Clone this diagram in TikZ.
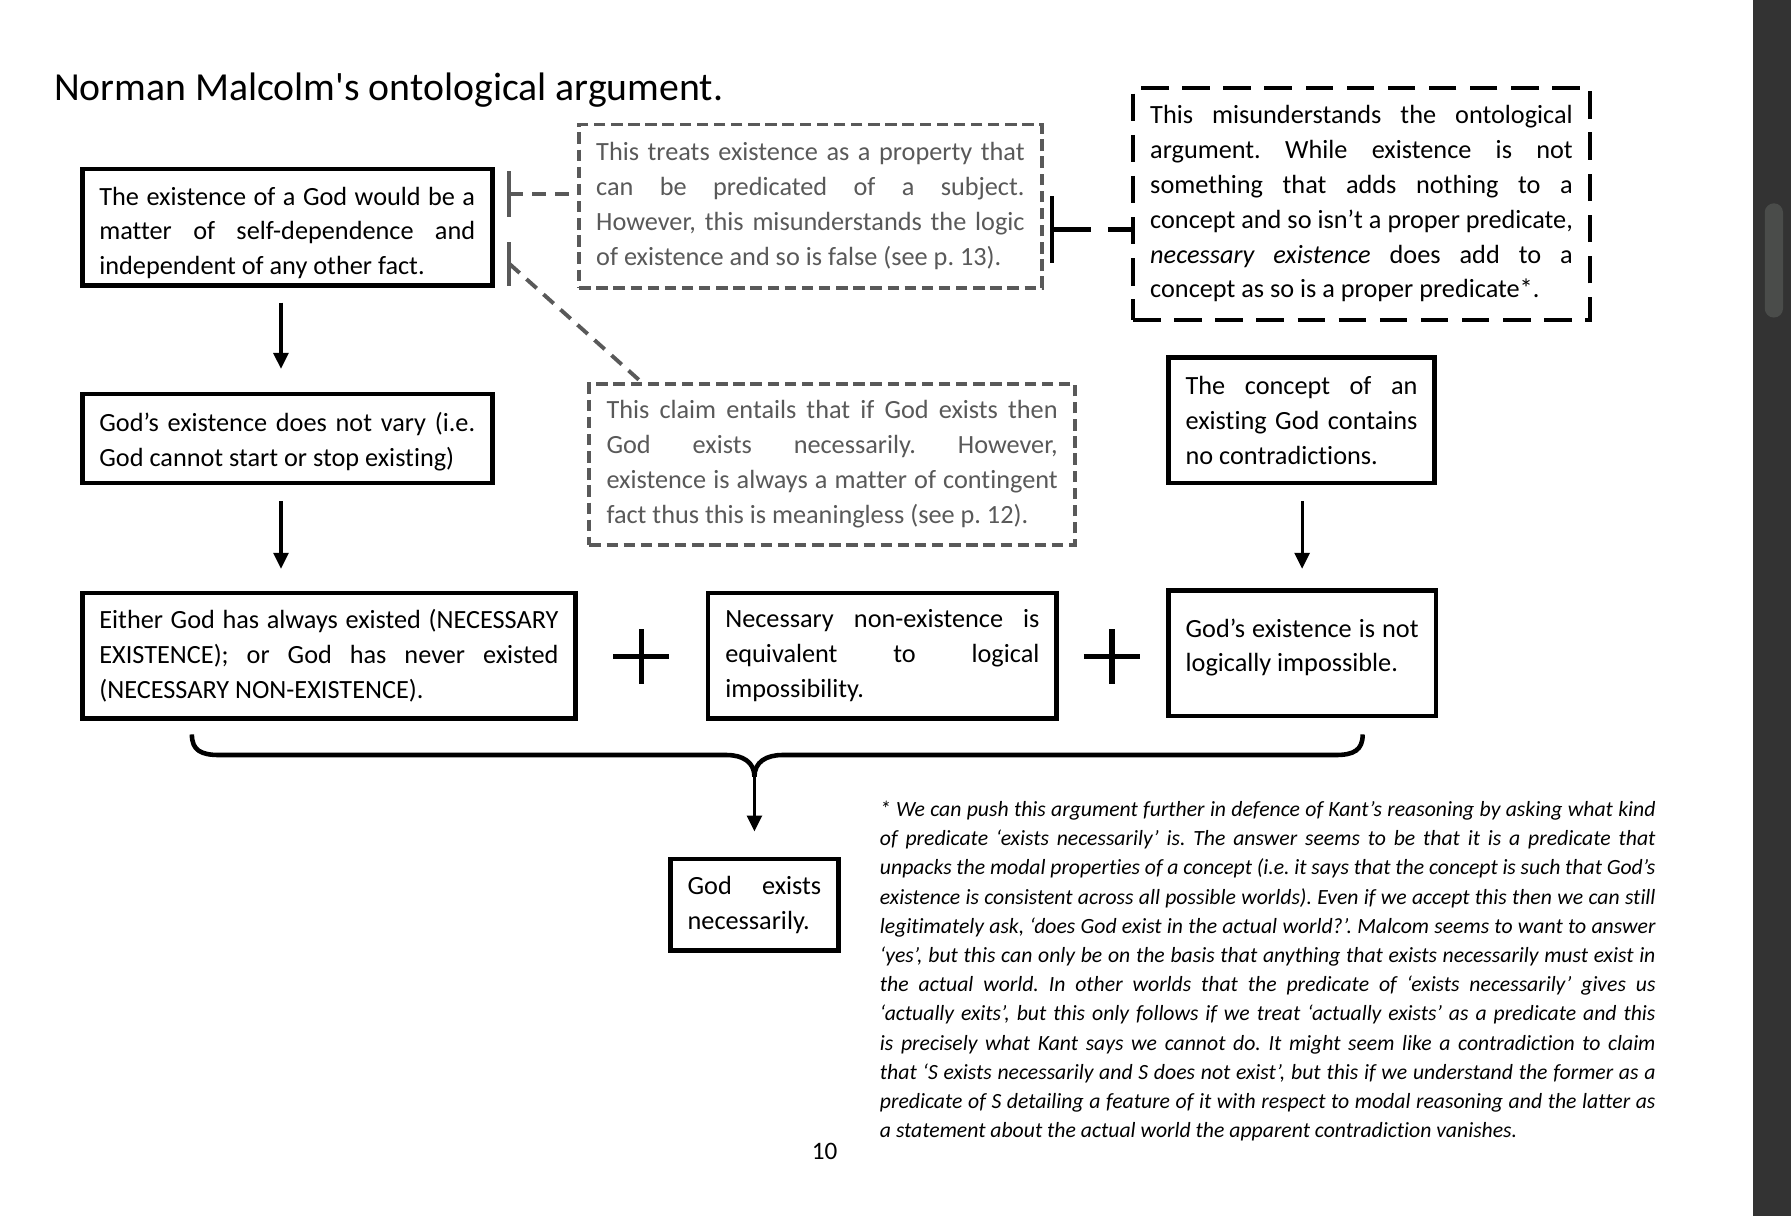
\documentclass[tikz,border=0pt]{standalone}
\usepackage{fontspec}
\setmainfont{Carlito}[Ligatures=CommonOff]
\usetikzlibrary{arrows.meta,calc}
\definecolor{gtxt}{HTML}{595959}
\definecolor{barbg}{HTML}{333333}
\definecolor{thumbc}{HTML}{4A4C4A}
\font\titlerawfont="Carlito" at 17.4pt
\newcommand{\boxfont}{\fontsize{11.5}{15.25}\selectfont\frenchspacing\hyphenpenalty=10000 \exhyphenpenalty=10000 \tolerance=10000 \hbadness=10000 }
\newcommand{\footfont}{\fontsize{9.5}{12.78}\selectfont\itshape\frenchspacing\hyphenpenalty=10000 \exhyphenpenalty=10000 \tolerance=10000 \hbadness=10000 }
\tikzset{
  solidbox/.style={draw, line width=2pt, rectangle, inner xsep=7.5pt, inner ysep=0pt, align=justify, font=\boxfont},
  graybox/.style={draw=gtxt, text=gtxt, line width=1.7pt, dash pattern=on 5pt off 2.5pt, rectangle, inner xsep=7.5pt, inner ysep=0pt, align=justify, font=\boxfont},
  blackdashbox/.style={draw, line width=2pt, dash pattern=on 12pt off 6pt, rectangle, inner xsep=7.5pt, inner ysep=0pt, align=justify, font=\boxfont},
  arr/.style={line width=1.4pt, -{Triangle[length=7pt,width=6.5pt]}},
  gline/.style={draw=gtxt, line width=1.7pt, dash pattern=on 6pt off 4pt},
  gbar/.style={draw=gtxt, line width=1.7pt},
  kbar/.style={draw=black, line width=2pt},
  kline/.style={draw=black, line width=2pt, dash pattern=on 17pt off 7.5pt},
  bracestyle/.style={line width=2pt, line join=round},
  plusline/.style={line width=2.3pt},
}
\begin{document}
\begin{tikzpicture}[x=0.5pt,y=-0.5pt]
\useasboundingbox (0,0) rectangle (1568,1065);
\fill[white] (0,0) rectangle (1568,1065);

% scroll bar
\fill[barbg] (1535,0) rectangle (1568,1065);
\fill[thumbc, rounded corners=4pt] (1545,178) rectangle (1561,278);

% title
\node[anchor=base west, inner sep=0pt, font=\titlerawfont] (title) at (47,88) {Norman Malcolm's ontological argument.};

% main boxes
\node[solidbox, minimum width=179.5pt, minimum height=51pt, text width=164.5pt, text height=8pt, text depth=27.4pt] (b1) at (251.5,199)
  {The existence of a God would be a\linebreak matter of self-dependence and\linebreak independent of any other fact.};
\node[solidbox, minimum width=179.5pt, minimum height=39pt, text width=164.5pt, text height=8pt, text depth=14.4pt] (b2) at (251.5,384)
  {God’s existence does not vary (i.e.\linebreak God cannot start or stop existing)};
\node[solidbox, minimum width=216pt, minimum height=55pt, text width=201pt] (b3) at (288,574)
  {Either God has always existed (NECESSARY\linebreak EXISTENCE); or God has never existed\linebreak (NECESSARY NON-EXISTENCE).};
\node[solidbox, minimum width=152.5pt, minimum height=55pt, text width=137.5pt] (b4) at (772.5,574)
  {Necessary non-existence is\linebreak equivalent to logical\linebreak impossibility.};
\node[solidbox, minimum width=117pt, minimum height=55pt, text width=102pt, text depth=22.4pt] (b5) at (1140,572)
  {God’s existence is not\linebreak logically impossible.};
\node[solidbox, minimum width=116.5pt, minimum height=55pt, text width=101.5pt] (b6) at (1139.5,368)
  {The concept of an\linebreak existing God contains\linebreak no contradictions.};
\node[solidbox, minimum width=73.5pt, minimum height=40pt, text width=58.5pt] (b7) at (660.5,792)
  {God exists\linebreak necessarily.};

% objection boxes
\node[graybox, minimum width=202.5pt, minimum height=71.5pt, text width=187.5pt] (bA) at (709.5,180.5)
  {This treats existence as a property that\linebreak can be predicated of a subject.\linebreak However, this misunderstands the logic\linebreak of existence and so is false (see p. 13).};
\node[graybox, minimum width=212.5pt, minimum height=70.5pt, text width=197.5pt] (bB) at (728.5,406.5)
  {This claim entails that if God exists then\linebreak God exists necessarily. However,\linebreak existence is always a matter of contingent\linebreak fact thus this is meaningless (see p. 12).};
\node[blackdashbox, minimum width=200pt, minimum height=101.5pt, text width=185pt] (bC) at (1192,178.5)
  {This misunderstands the ontological\linebreak argument. While existence is not\linebreak something that adds nothing to a\linebreak concept and so isn’t a proper predicate,\linebreak \textit{necessary existence} does add to a\linebreak concept as so is a proper predicate*.};

% objection connectors
\coordinate (t1) at (446,170);
\draw[gbar] ([yshift=10pt]t1) -- ([yshift=-10pt]t1);
\draw[gline] (t1) -- (t1 -| bA.west);
\coordinate (t2) at (446,231);
\draw[gbar] ([yshift=9.5pt]t2) -- ([yshift=-9.5pt]t2);
\draw[gline] (t2) -- ($(bB.north west)+(47,0)$);
\coordinate (t3) at (921,201);
\draw[kbar] ([yshift=14.5pt]t3) -- ([yshift=-14.5pt]t3);
\draw[kline] (t3) -- (t3 -| bC.west);

% arrows
\coordinate (a1s) at ([xshift=-2.75pt,yshift=-6.5pt]b1.south);
\draw[arr] (a1s) -- ($(a1s |- b2.north)+(0,-20)$);
\coordinate (a2s) at ([xshift=-2.75pt,yshift=-7pt]b2.south);
\draw[arr] (a2s) -- ($(a2s |- b3.north)+(0,-19)$);
\coordinate (a3s) at ([xshift=0.25pt,yshift=-7pt]b6.south);
\draw[arr] (a3s) -- ($(a3s |- b5.north)+(0,-17)$);

% plus signs
\draw[plusline] (537,575) -- (586,575) (561.5,551) -- (561.5,599);
\draw[plusline] (949,575) -- (998,575) (973.5,551) -- (973.5,599);

% brace
\coordinate (brL) at (168,643);
\coordinate (brR) at (1193,643);
\coordinate (brM) at (660.5,680);
\draw[bracestyle] (brL) .. controls (168,657) and (176,661) .. (192,661) -- (636,661)
  .. controls (650,661) and (660.5,667) .. (brM);
\draw[bracestyle] (brR) .. controls (1193,657) and (1185,661) .. (1169,661) -- (685,661)
  .. controls (671,661) and (660.5,667) .. (brM);
\draw[arr] ($(brM)+(0,-4)$) -- ($(b7.north)+(0,-22)$);

% footnote
\node[anchor=north west, inner sep=0pt, text width=339.5pt, align=justify, font=\footfont] (fn) at (770,701)
  {* We can push this argument further in defence of Kant’s reasoning by asking what kind\linebreak
   of predicate ‘exists necessarily’ is. The answer seems to be that it is a predicate that\linebreak
   unpacks the modal properties of a concept (i.e. it says that the concept is such that God’s\linebreak
   existence is consistent across all possible worlds). Even if we accept this then we can still\linebreak
   legitimately ask, ‘does God exist in the actual world?’. Malcom seems to want to answer\linebreak
   ‘yes’, but this can only be on the basis that anything that exists necessarily must exist in\linebreak
   the actual world. In other worlds that the predicate of ‘exists necessarily’ gives us\linebreak
   ‘actually exits’, but this only follows if we treat ‘actually exists’ as a predicate and this\linebreak
   is precisely what Kant says we cannot do. It might seem like a contradiction to claim\linebreak
   that ‘S exists necessarily and S does not exist’, but this if we understand the former as a\linebreak
   predicate of S detailing a feature of it with respect to modal reasoning and the latter as\linebreak
   a statement about the actual world the apparent contradiction vanishes.};

% page number
\node[font=\fontsize{11}{13}\selectfont, inner sep=0pt] (pg) at (722,1008) {10};
\end{tikzpicture}
\end{document}
